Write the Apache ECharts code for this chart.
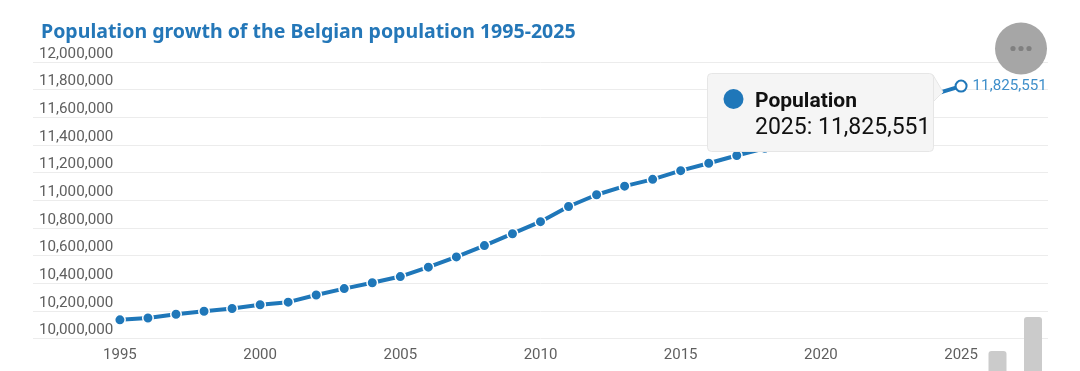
<!DOCTYPE html>
<html><head><meta charset="utf-8">
<style>html,body{margin:0;padding:0;background:#fff}#c{width:1080px;height:371px}</style>
<script src="https://cdn.jsdelivr.net/npm/echarts@6/dist/echarts.min.js"></script>
</head><body><div id="c"></div>
<script>
const years=[1995,1996,1997,1998,1999,2000,2001,2002,2003,2004,2005,2006,2007,2008,2009,2010,2011,2012,2013,2014,2015,2016,2017,2018,2019,2020,2021,2022,2023,2024,2025];
const population=[10135000,10148000,10175000,10197000,10217000,10244000,10263000,10315000,10361000,10403000,10448000,10516000,10590000,10672000,10758000,10845000,10955000,11040000,11102000,11151000,11214000,11268000,11324000,11376000,11431000,11493000,11521000,11584000,11698000,11764000,11825551];
const xTicks=[1995,2000,2005,2010,2015,2020,2025];
const fmt=v=>v.toString().replace(/\B(?=(\d{3})+$)/g,',');
const chart=echarts.init(document.getElementById('c'),null,{renderer:'canvas'});
const blue='#1f77b9';
chart.setOption({
 animation:false,
 title:{text:'Population growth of the Belgian population 1995-2025',left:36,top:17,textStyle:{fontFamily:'Noto Sans',fontSize:19.55,fontWeight:700,color:'#2477b8'}},
 grid:{left:33,right:32,top:62,bottom:32.5},
 xAxis:{type:'value',min:1991.9,max:2028.1,axisLine:{show:false},axisTick:{show:false},splitLine:{show:false},
  axisLabel:{customValues:xTicks,formatter:v=>String(v),fontFamily:'Roboto',fontSize:15,color:'#5f5f5f',margin:9}},
 yAxis:{type:'value',min:10000000,max:12000000,interval:200000,axisLine:{show:false},axisTick:{show:false},
  splitLine:{lineStyle:{color:'#ececec',width:1}},
  axisLabel:{inside:true,verticalAlign:'bottom',margin:6,formatter:fmt,fontFamily:'Roboto',fontSize:15.2,color:'#5f5f5f',lineHeight:16}},
 series:[{type:'line',data:years.map((y,i)=>{
   const d={value:[y,population[i]]};
   if(i===years.length-1){d.symbolSize=11;d.itemStyle={color:'#fff',borderColor:blue,borderWidth:2};
     d.label={show:true,position:'right',distance:5,formatter:p=>fmt(p.value[1]),fontFamily:'Roboto',fontSize:15.2,color:'#3f8fca'};}
   return d;}),
  symbol:'circle',symbolSize:10.5,showSymbol:true,z:3,
  lineStyle:{color:blue,width:4},
  itemStyle:{color:blue,borderColor:'#fff',borderWidth:1.5}}],
 graphic:[
  {type:'polygon',z:100,shape:{points:[[933,75],[943,92],[933,102]]},style:{fill:'#f5f5f5',stroke:'#e6e6e6',lineWidth:1}},
  {type:'rect',z:101,shape:{x:707.5,y:73.5,width:226,height:78,r:4},style:{fill:'#f5f5f5',stroke:'#e6e6e6',lineWidth:1}},
  {type:'circle',z:102,shape:{cx:733.5,cy:99,r:10},style:{fill:blue}},
  {type:'text',z:102,x:755,y:91,style:{text:'Population',font:'700 21px Roboto',fill:'#111'}},
  {type:'text',z:102,x:755,y:117,style:{text:'2025: 11,825,551',font:'23px Roboto',fill:'#111'}},
  {type:'circle',z:110,shape:{cx:1021,cy:48.5,r:26},style:{fill:'#a6a6a6'}},
  {type:'circle',z:111,shape:{cx:1013,cy:48.5,r:2.6},style:{fill:'#808080'}},
  {type:'circle',z:111,shape:{cx:1021,cy:48.5,r:2.6},style:{fill:'#808080'}},
  {type:'circle',z:111,shape:{cx:1029,cy:48.5,r:2.6},style:{fill:'#808080'}},
  {type:'rect',z:105,shape:{x:988.5,y:351,width:18,height:30,r:[3,3,0,0]},style:{fill:'#cbcbcb'}},
  {type:'rect',z:105,shape:{x:1024,y:317,width:18,height:64,r:[3,3,0,0]},style:{fill:'#cbcbcb'}}
 ]
});
</script></body></html>
